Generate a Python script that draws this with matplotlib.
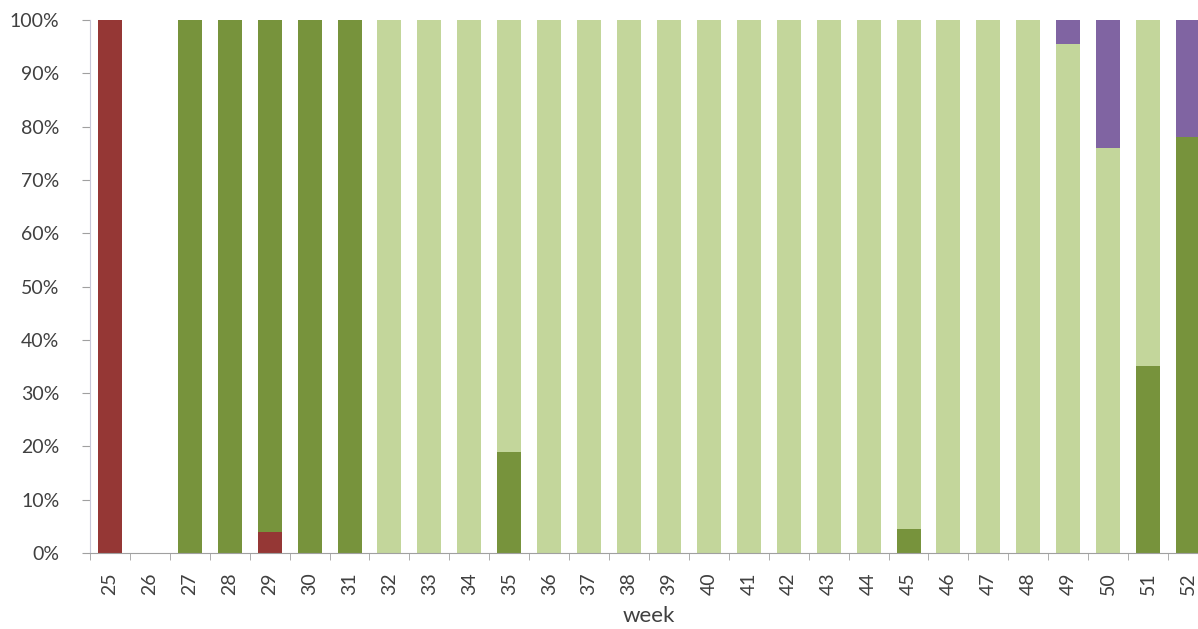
import numpy as np
import matplotlib.pyplot as plt

# weeks and share per category (percent)
weeks = list(range(25, 53))
red = [100, 0, 0, 0, 4, 0, 0, 0, 0, 0, 0, 0, 0, 0, 0, 0, 0, 0, 0, 0, 0, 0, 0, 0, 0, 0, 0, 0]
dark_green = [0, 0, 100, 100, 96, 100, 100, 0, 0, 0, 19, 0, 0, 0, 0, 0, 0, 0, 0, 0, 4.5, 0, 0, 0, 0, 0, 35, 78]
light_green = [0, 0, 0, 0, 0, 0, 0, 100, 100, 100, 81, 100, 100, 100, 100, 100, 100, 100, 100, 100, 95.5, 100, 100, 100, 95.5, 76, 65, 0]
purple = [0, 0, 0, 0, 0, 0, 0, 0, 0, 0, 0, 0, 0, 0, 0, 0, 0, 0, 0, 0, 0, 0, 0, 0, 4.5, 24, 0, 22]

series = [red, dark_green, light_green, purple]
colors = ['#953735', '#77933C', '#C3D69B', '#8064A2']

plt.rcParams['font.family'] = ['Lato', 'DejaVu Sans']

fig = plt.figure(figsize=(11.98, 6.29), dpi=100)
# plot area runs past the right edge, like the cropped original
ax = fig.add_axes([90 / 1198, 1 - 553 / 629, 1118 / 1198, 533 / 629])

x = np.array(weeks)
bottom = np.zeros(len(weeks))
for vals, c in zip(series, colors):
    v = np.array(vals, dtype=float)
    ax.bar(x, v, bottom=bottom, width=0.6, color=c, linewidth=0)
    bottom += v

ax.set_xlim(24.5, 52.5)
ax.set_ylim(0, 100)
ax.set_yticks(np.arange(0, 101, 10))
ax.set_yticklabels([f'{t}%' for t in range(0, 101, 10)])
ax.set_xticks(weeks)
ax.set_xticklabels([str(w) for w in weeks], rotation=90)
ax.set_xticks(np.arange(24.5, 53, 1), minor=True)
ax.tick_params(axis='x', which='major', length=0, pad=14, labelsize=14, labelcolor='#404040')
ax.tick_params(axis='x', which='minor', length=5, color='#A0A0A0', direction='out')
ax.tick_params(axis='y', length=6, color='#A0A0A0', labelsize=14, labelcolor='#404040', pad=16)

for s in ['top', 'right']:
    ax.spines[s].set_visible(False)
ax.spines['left'].set_color('#C8C8D8')
ax.spines['bottom'].set_color('#A0A0A0')

ax.set_xlabel('week', fontsize=16, color='#404040', labelpad=8)

fig.savefig('out.png', dpi=100)
